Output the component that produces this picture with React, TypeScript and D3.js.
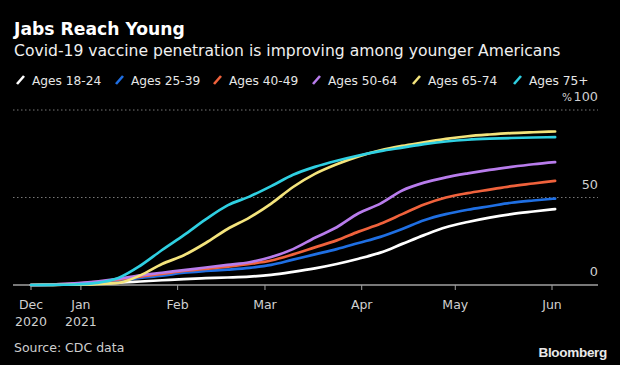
import * as d3 from "d3";

// weekly readings, Dec 16 2020 -> Jun 2 2021
const dates = [
  "2020-12-16", "2020-12-23", "2020-12-30", "2021-01-06", "2021-01-13",
  "2021-01-20", "2021-01-27", "2021-02-03", "2021-02-10", "2021-02-17",
  "2021-02-24", "2021-03-03", "2021-03-10", "2021-03-17", "2021-03-24",
  "2021-03-31", "2021-04-07", "2021-04-14", "2021-04-21", "2021-04-28",
  "2021-05-05", "2021-05-12", "2021-05-19", "2021-05-26", "2021-06-02",
];

const ages18to24 = [0, 0.1, 0.4, 0.8, 1.3, 2, 2.7, 3.4, 3.9, 4.3, 4.8, 5.8, 7.5, 9.5, 12, 15, 18.5, 23.5, 28.5, 33, 36, 38.5, 40.5, 42, 43.4];
const ages25to39 = [0, 0.2, 0.7, 1.5, 2.5, 4, 5.3, 7, 8, 8.8, 9.8, 11.5, 14.5, 17.5, 20.5, 24, 27.5, 32, 37, 40.5, 43, 45, 47, 48.3, 49.4];
const ages40to49 = [0, 0.3, 0.8, 1.8, 3, 4.8, 6.3, 8, 9.2, 10.5, 12, 14, 17.5, 21.5, 25.5, 30.5, 35, 40.5, 46, 50, 52.5, 54.5, 56.5, 58, 59.5];
const ages50to64 = [0, 0.3, 0.9, 2, 3.5, 5.5, 7, 8.5, 10, 11.5, 13, 16, 20.5, 27, 33, 41, 46.5, 54, 58.5, 61.5, 63.8, 65.8, 67.5, 69, 70.2];
const ages65to74 = [0, 0.1, 0.2, 0.5, 1.2, 5.5, 12, 17, 24, 32, 38.5, 46.5, 56, 63.5, 69, 73.5, 77, 79.5, 81.5, 83.5, 85, 86, 86.8, 87.3, 87.7];
const ages75plus = [0, 0.1, 0.3, 1.2, 4, 11, 20, 28.5, 37.5, 45.5, 50.5, 56.5, 63, 67.5, 71, 74, 76.5, 78.5, 80.5, 82, 83, 83.6, 84, 84.3, 84.5];

const seriesNames = ["Ages 18-24", "Ages 25-39", "Ages 40-49", "Ages 50-64", "Ages 65-74", "Ages 75+"];
const seriesValues = [ages18to24, ages25to39, ages40to49, ages50to64, ages65to74, ages75plus];
const colors = ["#ffffff", "#1f6fe3", "#f0623c", "#b87cec", "#f4e47c", "#2fd0e2"];

const tickDates = ["2020-12-16", "2021-01-01", "2021-02-01", "2021-03-01", "2021-04-01", "2021-05-01", "2021-06-01"];
const tickMonths = ["Dec", "Jan", "Feb", "Mar", "Apr", "May", "Jun"];
const tickYears = ["2020", "2021", "", "", "", "", ""];
const yTicks = [0, 50, 100];

const W = 620;
const H = 365;
const legendX = [16, 115, 213, 312, 412, 513];

export default function App() {
  const parse = d3.utcParse("%Y-%m-%d");
  const x = d3
    .scaleUtc()
    .domain([parse("2020-12-16"), parse("2021-06-01")])
    .range([31, 552]);
  const y = d3.scaleLinear().domain([0, 100]).range([285, 110]);

  const line = d3
    .line()
    .x((d) => x(d[0]))
    .y((d) => y(d[1]))
    .curve(d3.curveMonotoneX);

  const font = "DejaVu Sans, sans-serif";

  return (
    <svg
      width={W}
      height={H}
      style={{ position: "absolute", left: 0, top: 0, background: "#000" }}
    >
      <rect width={W} height={H} fill="#000" />
      <text x={14} y={35} fill="#fff" fontFamily={font} fontWeight="bold" fontSize={17.2}>
        Jabs Reach Young
      </text>
      <text x={14} y={56} fill="#f0f0f0" fontFamily={font} fontSize={15.6}>
        Covid-19 vaccine penetration is improving among younger Americans
      </text>

      {seriesNames.map((name, i) => (
        <g key={name} transform={`translate(${legendX[i]},0)`}>
          <line x1={1} y1={84} x2={8} y2={76} stroke={colors[i]} strokeWidth={2.6} />
          <text x={16} y={85} fill="#e6e6e6" fontFamily={font} fontSize={12.2}>
            {name}
          </text>
        </g>
      ))}

      {yTicks.map((t) => (
        <g key={t}>
          {t > 0 && (
            <line
              x1={13}
              x2={598}
              y1={y(t)}
              y2={y(t)}
              stroke="#777"
              strokeWidth={1}
              strokeDasharray="1.5,2.5"
            />
          )}
          <text
            x={598}
            y={y(t) - 9}
            textAnchor="end"
            fill="#d0d0d0"
            fontFamily={font}
            fontSize={12.8}
          >
            {t}
          </text>
        </g>
      ))}
      <text x={572} y={101} textAnchor="end" fill="#d0d0d0" fontFamily={font} fontSize={10.5}>
        %
      </text>

      <line x1={13} x2={598} y1={285} y2={285} stroke="#a0a0a0" strokeWidth={1.3} />
      {tickDates.map((d, i) => {
        const tx = x(parse(d));
        return (
          <g key={d}>
            <line x1={tx} x2={tx} y1={285} y2={290} stroke="#a0a0a0" strokeWidth={1} />
            <text x={tx} y={309} textAnchor="middle" fill="#d0d0d0" fontFamily={font} fontSize={12.5}>
              {tickMonths[i]}
            </text>
            {tickYears[i] && (
              <text x={tx} y={326} textAnchor="middle" fill="#d0d0d0" fontFamily={font} fontSize={12.5}>
                {tickYears[i]}
              </text>
            )}
          </g>
        );
      })}

      {seriesValues.map((vals, i) => (
        <path
          key={seriesNames[i]}
          d={line(vals.map((v, j) => [parse(dates[j]), v]))}
          fill="none"
          stroke={colors[i]}
          strokeWidth={2.7}
          strokeLinejoin="round"
          strokeLinecap="round"
        />
      ))}

      <text x={14} y={352} fill="#cfcfcf" fontFamily={font} fontSize={12.5}>
        Source: CDC data
      </text>
      <text
        x={607}
        y={357}
        textAnchor="end"
        fill="#e8e8e8"
        fontFamily="Liberation Sans, Arial, sans-serif"
        fontWeight="bold"
        fontSize={13.5}
        letterSpacing={-0.3}
      >
        Bloomberg
      </text>
    </svg>
  );
}
